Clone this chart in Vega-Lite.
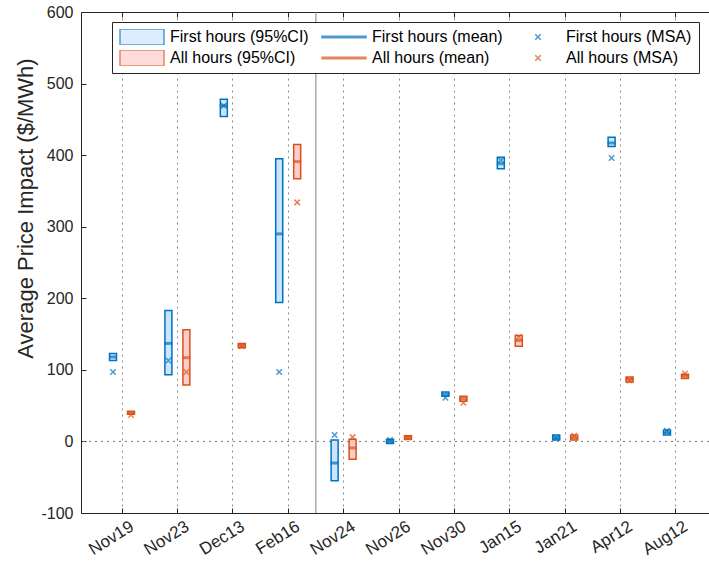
{
  "$schema": "https://vega.github.io/schema/vega-lite/v6.json",
  "width": 628,
  "height": 501,
  "autosize": {"type": "none"},
  "padding": {"left": 81, "top": 12, "right": 0, "bottom": 58},
  "config": {
    "font": "Liberation Sans",
    "view": {"stroke": null},
    "axis": {
      "labelFont": "Liberation Sans",
      "titleFont": "Liberation Sans",
      "labelColor": "#262626",
      "titleColor": "#262626",
      "domainColor": "#262626",
      "tickColor": "#262626",
      "labelFontSize": 16,
      "titleFontWeight": "normal"
    },
    "legend": {
      "orient": "none", "legendX": 31, "legendY": 10, "direction": "horizontal", "columns": 3,
      "columnPadding": 12, "rowPadding": 5, "clipHeight": 16, "labelFontSize": 16, "labelOffset": 5,
      "labelColor": "#000000", "labelLimit": 300, "padding": 7, "strokeColor": "#262626", "fillColor": "white",
      "symbolFillColor": "white", "symbolStrokeColor": "black", "symbolStrokeWidth": 1.5, "titleFontSize": 0
    }
  },
  "data": {
    "values": [
      {"date": "Nov19", "group": "First hours", "lo": 113, "hi": 123, "mean": 118, "msa": 97},
      {"date": "Nov23", "group": "First hours", "lo": 93, "hi": 183, "mean": 137, "msa": 113},
      {"date": "Dec13", "group": "First hours", "lo": 454, "hi": 478, "mean": 469, "msa": 469},
      {"date": "Feb16", "group": "First hours", "lo": 194, "hi": 395, "mean": 290, "msa": 97},
      {"date": "Nov24", "group": "First hours", "lo": -55, "hi": 2, "mean": -30, "msa": 9},
      {"date": "Nov26", "group": "First hours", "lo": -3, "hi": 3, "mean": 0, "msa": 2},
      {"date": "Nov30", "group": "First hours", "lo": 63, "hi": 69, "mean": 66, "msa": 61},
      {"date": "Jan15", "group": "First hours", "lo": 381, "hi": 397, "mean": 388, "msa": 393},
      {"date": "Jan21", "group": "First hours", "lo": 2, "hi": 9, "mean": 5, "msa": 5},
      {"date": "Apr12", "group": "First hours", "lo": 412, "hi": 425, "mean": 417, "msa": 396},
      {"date": "Aug12", "group": "First hours", "lo": 9, "hi": 16, "mean": 12, "msa": 15},
      {"date": "Nov19", "group": "All hours", "lo": 38, "hi": 42, "mean": 40, "msa": 37},
      {"date": "Nov23", "group": "All hours", "lo": 79, "hi": 156, "mean": 117, "msa": 97},
      {"date": "Dec13", "group": "All hours", "lo": 131, "hi": 137, "mean": 134, "msa": 133},
      {"date": "Feb16", "group": "All hours", "lo": 367, "hi": 415, "mean": 391, "msa": 334},
      {"date": "Nov24", "group": "All hours", "lo": -25, "hi": 3, "mean": -9, "msa": 6},
      {"date": "Nov26", "group": "All hours", "lo": 3, "hi": 8, "mean": 6, "msa": 5},
      {"date": "Nov30", "group": "All hours", "lo": 56, "hi": 63, "mean": 60, "msa": 54},
      {"date": "Jan15", "group": "All hours", "lo": 133, "hi": 148, "mean": 141, "msa": 146},
      {"date": "Jan21", "group": "All hours", "lo": 2, "hi": 9, "mean": 5, "msa": 8},
      {"date": "Apr12", "group": "All hours", "lo": 83, "hi": 90, "mean": 87, "msa": 85},
      {"date": "Aug12", "group": "All hours", "lo": 88, "hi": 94, "mean": 91, "msa": 95}
    ]
  },
  "resolve": {"axis": {"x": "independent"}},
  "layer": [
    {
      "data": {"values": [{}]},
      "mark": {"type": "rule", "color": "#808080", "strokeWidth": 1},
      "encoding": {
        "x": {
          "datum": "Nov24", "type": "nominal", "bandPosition": 0,
          "scale": {"domain": ["Nov19","Nov23","Dec13","Feb16","Nov24","Nov26","Nov30","Jan15","Jan21","Apr12","Aug12"], "paddingInner": 0, "paddingOuter": 0.168, "align": 0.715},
          "axis": {"orient": "top", "labels": false, "title": null, "grid": false, "tickSize": -5, "domain": true}
        }
      }
    },
    {
      "data": {"values": [{}]},
      "mark": {"type": "rule", "color": "#777777", "strokeWidth": 1, "strokeDash": [2, 4]},
      "encoding": {
        "y": {"datum": 0, "type": "quantitative", "title": "Average Price Impact ($/MWh)"}
      }
    },
    {
      "transform": [{"calculate": "datum.group + ' (95%CI)'", "as": "series"}],
      "mark": {"type": "bar", "width": 7, "strokeWidth": 1.5},
      "encoding": {
        "x": {
          "field": "date", "type": "nominal",
          "sort": ["Nov19","Nov23","Dec13","Feb16","Nov24","Nov26","Nov30","Jan15","Jan21","Apr12","Aug12"],
          "axis": {"orient": "bottom", "title": null, "labelAngle": -32, "labelAlign": "right", "labelBaseline": "top", "labelFontSize": 17, "labelOffset": 6, "tickSize": -5, "labelPadding": 10, "grid": true, "gridDash": [2, 4], "gridColor": "#8c8c8c"}
        },
        "xOffset": {"field": "group", "type": "nominal", "sort": ["First hours", "All hours"], "scale": {"paddingInner": 0, "paddingOuter": 0.54}},
        "y": {
          "field": "lo", "type": "quantitative", "title": "Average Price Impact ($/MWh)",
          "scale": {"domain": [-100, 600], "nice": false, "zero": false},
          "axis": {"values": [-100, 0, 100, 200, 300, 400, 500, 600], "labelExpr": "datum.value < 0 ? '-' + abs(datum.value) : '' + datum.value", "grid": false, "tickSize": -5, "labelPadding": 13, "titleFontSize": 22, "titlePadding": 3, "titleY": 196}
        },
        "y2": {"field": "hi"},
        "fill": {
          "field": "series", "type": "nominal", "title": null,
          "scale": {"domain": ["First hours (95%CI)","First hours (mean)","First hours (MSA)","All hours (95%CI)","All hours (mean)","All hours (MSA)"], "range": ["#CCE5FF","#0072BD","#0072BD","#FFCCCC","#D95319","#D95319"]}
        },
        "stroke": {
          "field": "series", "type": "nominal", "title": null,
          "scale": {"domain": ["First hours (95%CI)","First hours (mean)","First hours (MSA)","All hours (95%CI)","All hours (mean)","All hours (MSA)"], "range": ["#0072BD","#0072BD","#0072BD","#D95319","#D95319","#D95319"]}
        }
      }
    },
    {
      "transform": [{"calculate": "datum.group + ' (mean)'", "as": "series"}],
      "mark": {"type": "tick", "orient": "horizontal", "thickness": 3, "size": 8},
      "encoding": {
        "x": {"field": "date", "type": "nominal", "sort": ["Nov19","Nov23","Dec13","Feb16","Nov24","Nov26","Nov30","Jan15","Jan21","Apr12","Aug12"], "axis": null},
        "xOffset": {"field": "group", "type": "nominal", "sort": ["First hours", "All hours"]},
        "y": {"field": "mean", "type": "quantitative", "title": "Average Price Impact ($/MWh)"},
        "fill": {"field": "series", "type": "nominal", "title": null}
      }
    },
    {
      "transform": [{"calculate": "datum.group + ' (MSA)'", "as": "series"}],
      "mark": {"type": "point", "filled": false, "strokeWidth": 1.5},
      "encoding": {
        "x": {"field": "date", "type": "nominal", "sort": ["Nov19","Nov23","Dec13","Feb16","Nov24","Nov26","Nov30","Jan15","Jan21","Apr12","Aug12"], "axis": null},
        "xOffset": {"field": "group", "type": "nominal", "sort": ["First hours", "All hours"]},
        "y": {"field": "msa", "type": "quantitative", "title": "Average Price Impact ($/MWh)"},
        "fill": {"field": "series", "type": "nominal", "title": null},
        "stroke": {"field": "series", "type": "nominal", "title": null},
        "shape": {
          "field": "series", "type": "nominal", "title": null,
          "scale": {"domain": ["First hours (95%CI)","First hours (mean)","First hours (MSA)","All hours (95%CI)","All hours (mean)","All hours (MSA)"], "range": ["M-1,-0.36H1V0.36H-1Z","M-1,-0.035H1V0.035H-1Z","M-1,-1L1,1M-1,1L1,-1","M-1,-0.36H1V0.36H-1Z","M-1,-0.035H1V0.035H-1Z","M-1,-1L1,1M-1,1L1,-1"]}
        },
        "size": {
          "field": "series", "type": "nominal", "title": null,
          "scale": {"type": "ordinal", "domain": ["First hours (95%CI)","First hours (mean)","First hours (MSA)","All hours (95%CI)","All hours (mean)","All hours (MSA)"], "range": [1936, 1936, 30, 1936, 1936, 30]}
        }
      }
    }
  ]
}
